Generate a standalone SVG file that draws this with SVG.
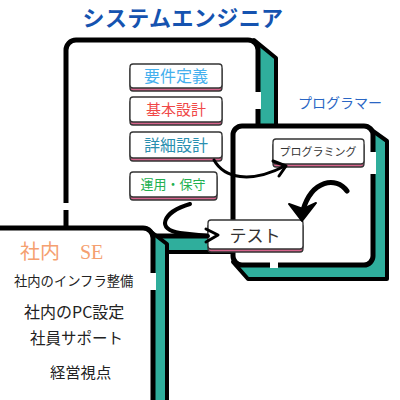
<svg xmlns="http://www.w3.org/2000/svg" width="400" height="400" viewBox="0 0 400 400">
<style>
.shadow{fill:#2fae9c;stroke:#000;stroke-width:4;stroke-linejoin:round}
.card{fill:#fff;stroke:#000;stroke-width:5}
.gap{fill:#fff}
.sub{fill:#fff;stroke:#333;stroke-width:1.3}
.pink{fill:#d6648c;stroke:#333;stroke-width:1.3}
.jp{font-family:"Noto Sans CJK JP","Noto Sans",sans-serif}
.arrow{fill:none;stroke:#000;stroke-linecap:round;stroke-linejoin:round}
</style>
<rect width="400" height="400" fill="#fff"/>

<text class="jp" x="183" y="26" text-anchor="middle" font-size="22" font-weight="bold" fill="#1553b0" letter-spacing="0.4">システムエンジニア</text>

<g id="se-card">
  <polygon class="shadow" points="254,40 276,58 276,252 80,252 66,236"/>
  <rect class="card" x="66" y="40" width="192" height="196" rx="10"/>
  <rect class="gap" x="62" y="203" width="9" height="7"/>
  <rect class="gap" x="255" y="92" width="6" height="17"/>
</g>

<g id="sub-boxes">
  <g id="req">
    <rect class="pink" x="130" y="67" width="92" height="24" rx="3"/>
    <rect class="sub" x="130" y="64" width="92" height="24" rx="3"/>
    <text class="jp" x="176" y="82" text-anchor="middle" font-size="16" fill="#45b0ee">要件定義</text>
  </g>
  <g id="basic">
    <rect class="pink" x="130" y="100" width="92" height="25" rx="3"/>
    <rect class="sub" x="130" y="97" width="92" height="25" rx="3"/>
    <text class="jp" x="176" y="115" text-anchor="middle" font-size="15" fill="#f04848">基本設計</text>
  </g>
  <g id="detail">
    <rect class="pink" x="130" y="135" width="92" height="26" rx="3"/>
    <rect class="sub" x="130" y="132" width="92" height="26" rx="3"/>
    <text class="jp" x="176" y="151" text-anchor="middle" font-size="16" fill="#2a8fb0">詳細設計</text>
  </g>
  <g id="ops">
    <rect class="pink" x="130" y="175" width="87" height="25" rx="3"/>
    <rect class="sub" x="130" y="172" width="87" height="25" rx="3"/>
    <text class="jp" x="173" y="189" text-anchor="middle" font-size="13" fill="#22b050">運用・保守</text>
  </g>
</g>

<text class="jp" x="340" y="108" text-anchor="middle" font-size="14" fill="#2a66c4">プログラマー</text>

<g id="programmer-card">
  <polygon class="shadow" points="366,126 387,141 387,279 248,279 233,262"/>
  <rect class="card" x="233" y="126" width="140" height="139" rx="9"/>
  <rect class="gap" x="370" y="152" width="6" height="22"/>
  <rect class="gap" x="270" y="262" width="8" height="6"/>
</g>

<g id="programming">
  <rect class="pink" x="273" y="143" width="91" height="24" rx="3"/>
  <rect class="sub" x="273" y="139" width="91" height="25" rx="3"/>
  <text class="jp" x="318" y="156" text-anchor="middle" font-size="11" fill="#333">プログラミング</text>
</g>

<g id="se-inhouse-card">
  <polygon class="shadow" points="146,228 167,244 167,420 20,420 -10,420"/>
  <rect class="card" x="-20" y="228" width="173" height="200" rx="10"/>
  <rect class="gap" x="148" y="273" width="8" height="17"/>
  <text x="20" y="259" font-family="Liberation Serif,'Noto Sans CJK JP',serif" font-size="20" fill="#f5a070">社内　SE</text>
  <text class="jp" x="14" y="286" font-size="13.3" fill="#222">社内のインフラ整備</text>
  <text class="jp" x="24" y="318" font-size="16" fill="#222">社内のPC設定</text>
  <text class="jp" x="30" y="344" font-size="15.5" fill="#222">社員サポート</text>
  <text class="jp" x="50" y="378" font-size="15.3" fill="#222">経営視点</text>
</g>

<g id="test">
  <rect class="pink" x="208" y="224" width="95" height="28" rx="3"/>
  <rect class="sub" x="208" y="220" width="95" height="29" rx="3"/>
  <text class="jp" x="255" y="242" text-anchor="middle" font-size="17" fill="#333">テスト</text>
</g>

<g id="connectors">
  <path class="arrow" stroke-width="3" d="M214,160 C224,178 250,184 285,166"/>
  <polyline class="arrow" stroke-width="3" points="273,161 286,166 279,176"/>
  <path class="arrow" stroke-width="5" d="M347,191 C336,176 312,180 303,210"/>
  <path d="M289,204 L302,221 L316,203 L303,209 Z" fill="#000" stroke="#000" stroke-width="2" stroke-linejoin="round"/>
  <path class="arrow" stroke-width="4" d="M190,204 C162,212 156,230 180,233 L208,236"/>
  <polyline class="arrow" stroke-width="3" points="206,229 218,235 206,242"/>
</g>
</svg>
